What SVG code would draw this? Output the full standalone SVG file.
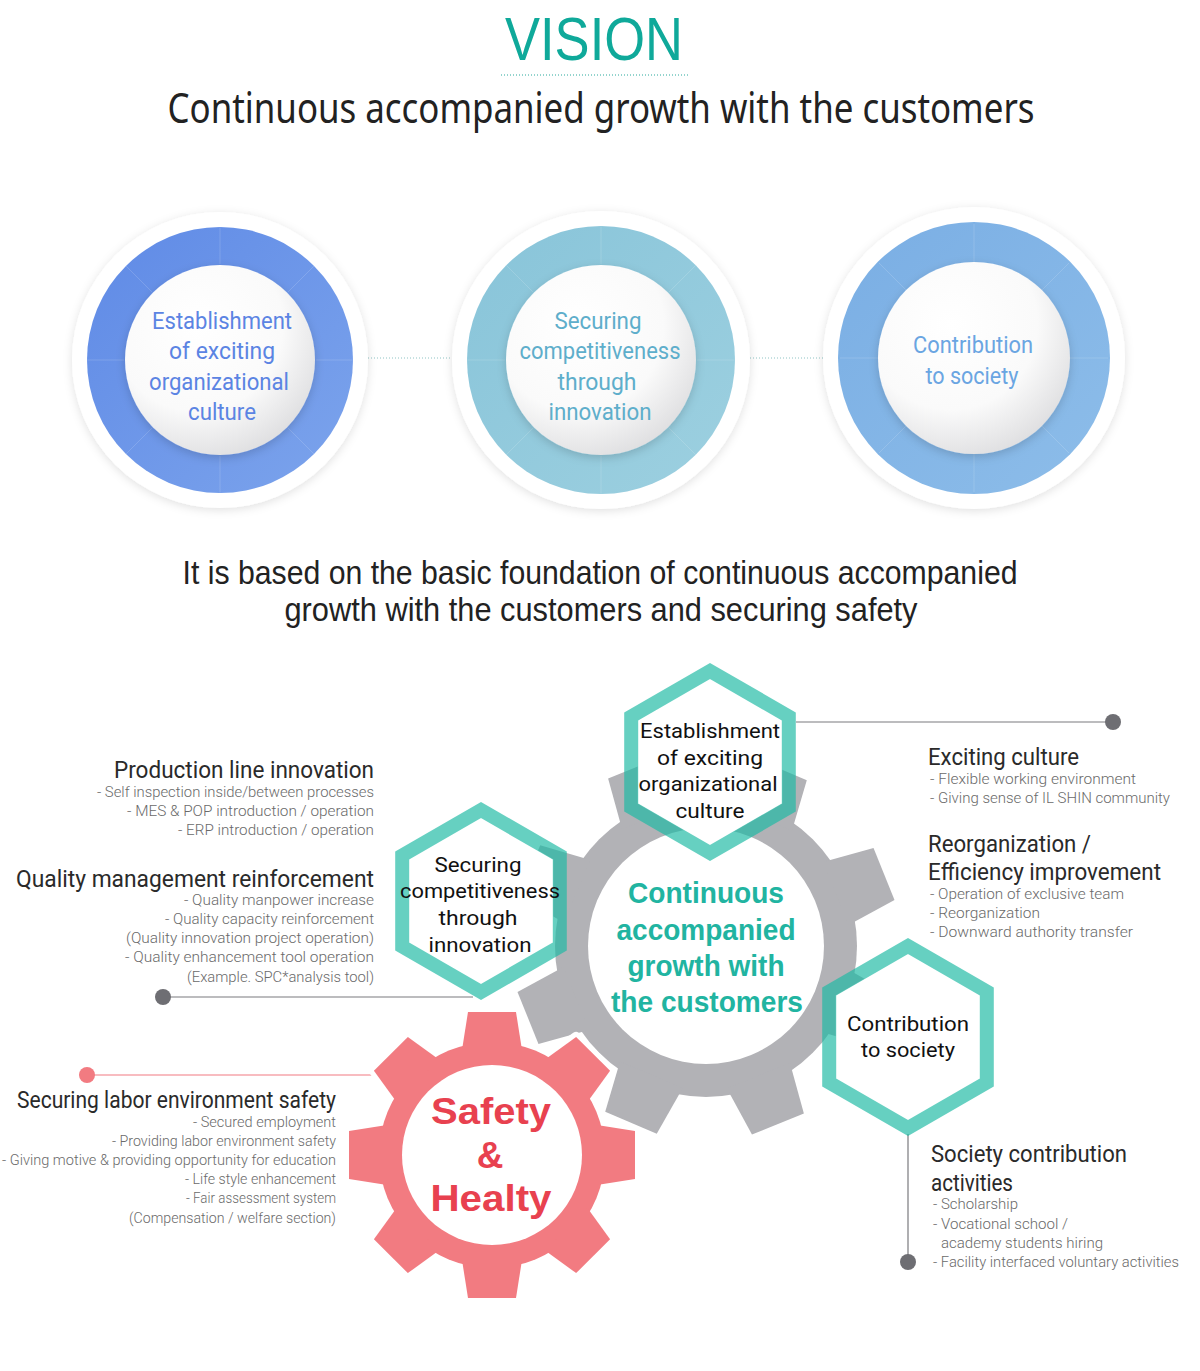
<svg xmlns="http://www.w3.org/2000/svg" width="1200" height="1371" viewBox="0 0 1200 1371">
<defs>
<style>
.ttl{font-family:"Noto Sans","Open Sans",sans-serif;}
.h{font-family:Roboto,"Liberation Sans",sans-serif;font-size:23px;fill:#2a2a2a;}
.i{font-family:Roboto,"Liberation Sans",sans-serif;font-size:15.5px;fill:#6a6a6a;font-weight:300;}
.hx{font-family:Roboto,"Liberation Sans",sans-serif;font-size:21px;fill:#111;text-anchor:middle;}
.ct{font-family:"Liberation Sans",Arial,sans-serif;font-size:30px;font-weight:bold;fill:#21b4a1;text-anchor:middle;}
.sf{font-family:"Liberation Sans",Arial,sans-serif;font-size:37px;font-weight:bold;fill:#e8414f;text-anchor:middle;}
.ci{font-family:Roboto,"Liberation Sans",sans-serif;font-size:23px;text-anchor:middle;}
.hexs{fill:none;stroke:#1db9a3;stroke-opacity:0.68;stroke-width:14;stroke-linejoin:miter;}
.hexf{fill:#fff;}
.con{stroke:#7a7a7e;stroke-width:1.2;fill:none;}
.dot{fill:#6e6e73;}
.dotline{stroke:#8fc4c4;stroke-width:1;stroke-dasharray:1 2;}
.seg{stroke:#ffffff;stroke-opacity:0.15;stroke-width:1;}
</style>
<filter id="sh" x="-20%" y="-20%" width="140%" height="140%">
<feDropShadow dx="0" dy="2" stdDeviation="5" flood-color="#000" flood-opacity="0.12"/>
</filter>
<filter id="ish" x="-20%" y="-20%" width="140%" height="140%">
<feDropShadow dx="0" dy="3" stdDeviation="5" flood-color="#000" flood-opacity="0.16"/>
</filter>
<radialGradient id="ball" cx="0.38" cy="0.32" r="0.75">
<stop offset="0" stop-color="#ffffff"/>
<stop offset="0.6" stop-color="#fafafa"/>
<stop offset="1" stop-color="#dcdcde"/>
</radialGradient>
<linearGradient id="g1" x1="0" y1="0" x2="1" y2="1">
<stop offset="0" stop-color="#5f8ae6"/>
<stop offset="1" stop-color="#7ca4ec"/>
</linearGradient>
<linearGradient id="g2" x1="0" y1="0" x2="1" y2="1">
<stop offset="0" stop-color="#88c4d9"/>
<stop offset="1" stop-color="#9dd0e0"/>
</linearGradient>
<linearGradient id="g3" x1="0" y1="0" x2="1" y2="1">
<stop offset="0" stop-color="#7aaee4"/>
<stop offset="1" stop-color="#8dbde9"/>
</linearGradient>
<polygon id="hexS" points="0,-91 78.8,-45.5 78.8,45.5 0,91 -78.8,45.5 -78.8,-45.5"/>
<polygon id="hexF" points="0,-83.5 72.3,-41.75 72.3,41.75 0,83.5 -72.3,41.75 -72.3,-41.75"/>
<polygon id="gt" points="-34,-140 -28,-192 28,-192 34,-140"/>
<polygon id="pt" points="-30,-105 -24,-143 24,-143 30,-105"/>
<g id="segs">
<line x1="0" y1="-96" x2="0" y2="-134"/><line x1="0" y1="96" x2="0" y2="134"/>
<line x1="-96" y1="0" x2="-134" y2="0"/><line x1="96" y1="0" x2="134" y2="0"/>
<line x1="68" y1="68" x2="95" y2="95"/><line x1="-68" y1="68" x2="-95" y2="95"/>
<line x1="68" y1="-68" x2="95" y2="-95"/><line x1="-68" y1="-68" x2="-95" y2="-95"/>
</g>
</defs>
<rect width="1200" height="1371" fill="#fff"/>

<!-- Header -->
<g id="header">
<text x="594" y="60" font-family="'Liberation Sans',Arial,sans-serif" font-size="62" fill="#0fa99a" text-anchor="middle" textLength="178" lengthAdjust="spacingAndGlyphs">VISION</text>
<line x1="501" y1="75" x2="690" y2="75" stroke="#2aa99c" stroke-width="1" stroke-dasharray="1 2"/>
<text class="ttl" x="601" y="123" font-size="41" fill="#222" text-anchor="middle" textLength="867" lengthAdjust="spacingAndGlyphs">Continuous accompanied growth with the customers</text>
</g>

<!-- Top circles connectors -->
<g id="circle-links">
<line class="dotline" x1="368" y1="358" x2="452" y2="358"/>
<line class="dotline" x1="750" y1="358" x2="823" y2="358"/>
</g>

<g id="circle1">
<circle cx="220" cy="360" r="148" fill="#fff" filter="url(#sh)"/>
<circle cx="220" cy="360" r="133" fill="url(#g1)"/>
<use href="#segs" transform="translate(220 360)" class="seg"/>
<circle cx="220" cy="360" r="95" fill="url(#ball)" filter="url(#ish)"/>
<g class="ci" fill="#5b84e3">
<text x="222" y="329" textLength="140" lengthAdjust="spacingAndGlyphs">Establishment</text>
<text x="222" y="359" textLength="106" lengthAdjust="spacingAndGlyphs">of  exciting</text>
<text x="219" y="390" textLength="140" lengthAdjust="spacingAndGlyphs">organizational</text>
<text x="222" y="420" textLength="68" lengthAdjust="spacingAndGlyphs">culture</text>
</g>
</g>

<g id="circle2">
<circle cx="601" cy="360" r="149" fill="#fff" filter="url(#sh)"/>
<circle cx="601" cy="360" r="134" fill="url(#g2)"/>
<use href="#segs" transform="translate(601 360)" class="seg"/>
<circle cx="601" cy="360" r="95" fill="url(#ball)" filter="url(#ish)"/>
<g class="ci" fill="#5eaecb">
<text x="598" y="329" textLength="87" lengthAdjust="spacingAndGlyphs">Securing</text>
<text x="600" y="359" textLength="161" lengthAdjust="spacingAndGlyphs">competitiveness</text>
<text x="597" y="390" textLength="79" lengthAdjust="spacingAndGlyphs">through</text>
<text x="600" y="420" textLength="103" lengthAdjust="spacingAndGlyphs">innovation</text>
</g>
</g>

<g id="circle3">
<circle cx="974" cy="358" r="151" fill="#fff" filter="url(#sh)"/>
<circle cx="974" cy="358" r="136" fill="url(#g3)"/>
<use href="#segs" transform="translate(974 358)" class="seg"/>
<circle cx="974" cy="358" r="96" fill="url(#ball)" filter="url(#ish)"/>
<g class="ci" fill="#6aa5e2">
<text x="973" y="353" textLength="120" lengthAdjust="spacingAndGlyphs">Contribution</text>
<text x="972" y="384" textLength="93" lengthAdjust="spacingAndGlyphs">to society</text>
</g>
</g>

<g id="intro">
<text x="600" y="584" font-family="'Liberation Sans',Arial,sans-serif" font-size="33" fill="#222" text-anchor="middle" textLength="835" lengthAdjust="spacingAndGlyphs">It is based on the basic foundation of continuous accompanied</text>
<text x="601" y="621" font-family="'Liberation Sans',Arial,sans-serif" font-size="33" fill="#222" text-anchor="middle" textLength="633" lengthAdjust="spacingAndGlyphs">growth with the customers and securing safety</text>
</g>

<!-- Connectors -->
<g id="connectors">
<line class="con" x1="796" y1="722" x2="1113" y2="722"/>
<circle class="dot" cx="1113" cy="722" r="8"/>
<line class="con" x1="163" y1="997" x2="473" y2="997"/>
<circle class="dot" cx="163" cy="997" r="8"/>
<line x1="87" y1="1075" x2="385" y2="1075" stroke="#f27b81" stroke-width="1.2"/>
<circle cx="87" cy="1075" r="8" fill="#f27b81"/>
<line class="con" x1="908" y1="1134" x2="908" y2="1262"/>
<circle class="dot" cx="908" cy="1262" r="8"/>
</g>

<!-- Gray gear -->
<g id="gear-main">
<g fill="#b2b2b6" transform="translate(706 946)">
<circle r="151"/>
<use href="#gt" transform="rotate(68)"/>
<use href="#gt" transform="rotate(113)"/>
<use href="#gt" transform="rotate(158)"/>
<use href="#gt" transform="rotate(203)"/>
<use href="#gt" transform="rotate(248)"/>
<use href="#gt" transform="rotate(293)"/>
<use href="#gt" transform="rotate(338)"/>
<use href="#gt" transform="rotate(23)"/>
<circle r="118" fill="#fff"/>
</g>
<g class="ct">
<text x="706" y="903" textLength="156" lengthAdjust="spacingAndGlyphs">Continuous</text>
<text x="706" y="940" textLength="179" lengthAdjust="spacingAndGlyphs">accompanied</text>
<text x="706" y="976" textLength="157" lengthAdjust="spacingAndGlyphs">growth with</text>
<text x="707" y="1012" textLength="192" lengthAdjust="spacingAndGlyphs">the customers</text>
</g>
</g>

<!-- Hexagons -->
<g id="hex-culture">
<use href="#hexF" class="hexf" transform="translate(710 762)"/>
<use href="#hexS" class="hexs" transform="translate(710 762)"/>
<text class="hx" x="710" y="738" textLength="140" lengthAdjust="spacingAndGlyphs">Establishment</text>
<text class="hx" x="710" y="765" textLength="106" lengthAdjust="spacingAndGlyphs">of  exciting</text>
<text class="hx" x="708" y="791" textLength="139" lengthAdjust="spacingAndGlyphs">organizational</text>
<text class="hx" x="710" y="818" textLength="69" lengthAdjust="spacingAndGlyphs">culture</text>
</g>

<g id="hex-innovation">
<use href="#hexF" class="hexf" transform="translate(481 901)"/>
<use href="#hexS" class="hexs" transform="translate(481 901)"/>
<text class="hx" x="478" y="872" textLength="87" lengthAdjust="spacingAndGlyphs">Securing</text>
<text class="hx" x="480" y="898" textLength="160" lengthAdjust="spacingAndGlyphs">competitiveness</text>
<text class="hx" x="478" y="925" textLength="79" lengthAdjust="spacingAndGlyphs">through</text>
<text class="hx" x="480" y="952" textLength="103" lengthAdjust="spacingAndGlyphs">innovation</text>
</g>

<g id="hex-society">
<use href="#hexF" class="hexf" transform="translate(908 1037)"/>
<use href="#hexS" class="hexs" transform="translate(908 1037)"/>
<text class="hx" x="908" y="1031" textLength="122" lengthAdjust="spacingAndGlyphs">Contribution</text>
<text class="hx" x="908" y="1057" textLength="94" lengthAdjust="spacingAndGlyphs">to society</text>
</g>

<!-- Pink gear -->
<g id="gear-safety">
<g fill="#fff" stroke="#fff" stroke-width="10" stroke-linejoin="round" transform="translate(492 1155)">
<circle r="113"/>
<use href="#pt"/><use href="#pt" transform="rotate(45)"/><use href="#pt" transform="rotate(90)"/><use href="#pt" transform="rotate(135)"/>
<use href="#pt" transform="rotate(180)"/><use href="#pt" transform="rotate(225)"/><use href="#pt" transform="rotate(270)"/><use href="#pt" transform="rotate(315)"/>
</g>
<g fill="#f27b81" transform="translate(492 1155)">
<circle r="113"/>
<use href="#pt"/><use href="#pt" transform="rotate(45)"/><use href="#pt" transform="rotate(90)"/><use href="#pt" transform="rotate(135)"/>
<use href="#pt" transform="rotate(180)"/><use href="#pt" transform="rotate(225)"/><use href="#pt" transform="rotate(270)"/><use href="#pt" transform="rotate(315)"/>
<circle r="90" fill="#fff"/>
</g>
<g class="sf">
<text x="491" y="1124" textLength="120" lengthAdjust="spacingAndGlyphs">Safety</text>
<text x="490" y="1168">&amp;</text>
<text x="491" y="1211" textLength="121" lengthAdjust="spacingAndGlyphs">Healty</text>
</g>
</g>

<!-- Text blocks -->
<g id="txt-production" text-anchor="end">
<text class="h" x="374" y="778" textLength="260" lengthAdjust="spacingAndGlyphs">Production line innovation</text>
<text class="i" x="374" y="797" textLength="277" lengthAdjust="spacingAndGlyphs">- Self inspection inside/between processes</text>
<text class="i" x="374" y="816" textLength="247" lengthAdjust="spacingAndGlyphs">- MES &amp; POP introduction / operation</text>
<text class="i" x="374" y="835" textLength="196" lengthAdjust="spacingAndGlyphs">- ERP introduction / operation</text>
</g>
<g id="txt-quality" text-anchor="end">
<text class="h" x="374" y="887" textLength="358" lengthAdjust="spacingAndGlyphs">Quality management reinforcement</text>
<text class="i" x="374" y="905" textLength="190" lengthAdjust="spacingAndGlyphs">- Quality manpower increase</text>
<text class="i" x="374" y="924" textLength="209" lengthAdjust="spacingAndGlyphs">- Quality capacity reinforcement</text>
<text class="i" x="374" y="943" textLength="248" lengthAdjust="spacingAndGlyphs">(Quality innovation project operation)</text>
<text class="i" x="374" y="962" textLength="249" lengthAdjust="spacingAndGlyphs">- Quality enhancement tool operation</text>
<text class="i" x="374" y="982" textLength="187" lengthAdjust="spacingAndGlyphs">(Example. SPC*analysis tool)</text>
</g>
<g id="txt-exciting">
<text class="h" x="928" y="765" textLength="151" lengthAdjust="spacingAndGlyphs">Exciting culture</text>
<text class="i" x="930" y="784" textLength="206" lengthAdjust="spacingAndGlyphs">- Flexible working environment</text>
<text class="i" x="930" y="803" textLength="240" lengthAdjust="spacingAndGlyphs">- Giving sense of IL SHIN community</text>
</g>
<g id="txt-reorg">
<text class="h" x="928" y="852" textLength="163" lengthAdjust="spacingAndGlyphs">Reorganization /</text>
<text class="h" x="928" y="880" textLength="233" lengthAdjust="spacingAndGlyphs">Efficiency improvement</text>
<text class="i" x="930" y="899" textLength="194" lengthAdjust="spacingAndGlyphs">- Operation of exclusive team</text>
<text class="i" x="930" y="918" textLength="110" lengthAdjust="spacingAndGlyphs">- Reorganization</text>
<text class="i" x="930" y="937" textLength="203" lengthAdjust="spacingAndGlyphs">- Downward authority transfer</text>
</g>
<g id="txt-labor" text-anchor="end">
<text class="h" x="336" y="1108" textLength="319" lengthAdjust="spacingAndGlyphs">Securing labor environment safety</text>
<text class="i" x="336" y="1127" textLength="143" lengthAdjust="spacingAndGlyphs">- Secured employment</text>
<text class="i" x="336" y="1146" textLength="224" lengthAdjust="spacingAndGlyphs">- Providing labor environment safety</text>
<text class="i" x="336" y="1165" textLength="334" lengthAdjust="spacingAndGlyphs">- Giving motive &amp; providing opportunity for education</text>
<text class="i" x="336" y="1184" textLength="151" lengthAdjust="spacingAndGlyphs">- Life style enhancement</text>
<text class="i" x="336" y="1203" textLength="150" lengthAdjust="spacingAndGlyphs">- Fair assessment system</text>
<text class="i" x="336" y="1223" textLength="207" lengthAdjust="spacingAndGlyphs">(Compensation / welfare section)</text>
</g>
<g id="txt-society">
<text class="h" x="931" y="1162" textLength="196" lengthAdjust="spacingAndGlyphs">Society contribution</text>
<text class="h" x="931" y="1191" textLength="82" lengthAdjust="spacingAndGlyphs">activities</text>
<text class="i" x="933" y="1209" textLength="85" lengthAdjust="spacingAndGlyphs">- Scholarship</text>
<text class="i" x="933" y="1229" textLength="135" lengthAdjust="spacingAndGlyphs">- Vocational school /</text>
<text class="i" x="941" y="1248" textLength="162" lengthAdjust="spacingAndGlyphs">academy students hiring</text>
<text class="i" x="933" y="1267" textLength="246" lengthAdjust="spacingAndGlyphs">- Facility interfaced voluntary activities</text>
</g>
</svg>
